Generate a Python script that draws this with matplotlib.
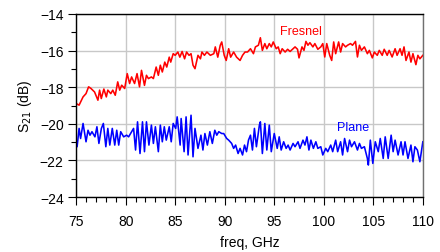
import matplotlib
matplotlib.use("Agg")
import matplotlib.pyplot as plt
from matplotlib.ticker import MultipleLocator

plt.rcParams["font.family"] = ["Liberation Sans", "DejaVu Sans"]

# Fresnel lens measurement (red)
fresnel_f = [75.0, 75.3, 75.7, 76.0, 76.26, 76.5, 76.86, 77.2, 77.37, 77.54, 77.8, 78.05, 78.2, 78.5,
             78.7, 78.95, 79.2, 79.4, 79.6, 79.9, 80.16, 80.4, 80.6, 80.9, 81.15, 81.4, 81.6, 81.9,
             82.1, 82.3, 82.6, 82.8, 83.08, 83.3, 83.5, 83.7, 83.95, 84.15, 84.4, 84.55, 84.8, 85.0,
             85.27, 85.47, 85.7, 85.95, 86.15, 86.4, 86.6, 86.8, 87.0, 87.3, 87.55, 87.7, 87.95, 88.2,
             88.55, 88.9, 89.05, 89.3, 89.55, 89.7, 89.95, 90.15, 90.4, 90.6, 90.9, 91.2, 91.55, 91.8,
             92.05, 92.3, 92.6, 92.9, 93.1, 93.4, 93.6, 93.8, 94.05, 94.25, 94.5, 94.7, 94.9, 95.2,
             95.4, 95.6, 95.8, 96.1, 96.35, 96.6, 96.9, 97.1, 97.35, 97.5, 97.8, 98.0, 98.2, 98.4,
             98.6, 98.9, 99.1, 99.4, 99.7, 99.9, 100.1, 100.3, 100.6, 100.8, 101.0, 101.2, 101.5, 101.7,
             101.9, 102.2, 102.4, 102.7, 102.9, 103.2, 103.4, 103.6, 103.8, 104.1, 104.4, 104.6, 104.9,
             105.1, 105.4, 105.6, 105.9, 106.1, 106.4, 106.6, 106.9, 107.2, 107.4, 107.7, 107.9, 108.1,
             108.3, 108.6, 108.8, 109.0, 109.3, 109.5, 109.7, 110.0]
fresnel_db = [-18.89, -18.98, -18.53, -18.35, -17.98, -18.07, -18.26, -18.71, -18.16, -18.62, -18.1, -18.53, -18.16, -18.35,
              -18.16, -18.44, -17.71, -18.16, -17.89, -18.07, -17.26, -17.8, -17.44, -17.8, -17.26, -17.98, -17.08, -17.9,
              -17.35, -17.53, -17.44, -17.53, -16.9, -17.35, -16.8, -17.17, -16.63, -16.9, -16.36, -16.63, -16.17, -16.26,
              -16.08, -16.36, -16.05, -16.45, -16.08, -16.26, -16.17, -16.8, -16.99, -16.26, -16.45, -16.08, -16.26, -16.08,
              -16.26, -16.17, -15.8, -16.36, -15.71, -15.53, -16.26, -16.54, -15.9, -16.36, -16.08, -16.36, -16.54, -16.26,
              -16.08, -16.08, -15.9, -16.17, -15.8, -15.71, -15.3, -15.99, -15.62, -15.9, -15.62, -15.8, -15.53, -15.9,
              -15.8, -16.17, -15.9, -16.08, -15.93, -16.05, -15.9, -15.8, -15.93, -16.4, -15.8, -15.99, -15.5, -15.71,
              -15.57, -15.8, -15.62, -15.93, -15.8, -15.62, -16.35, -15.62, -16.26, -16.54, -15.53, -16.17, -15.53, -16.08,
              -15.62, -15.8, -15.71, -15.62, -15.71, -15.5, -16.35, -15.71, -15.99, -15.8, -16.17, -15.99, -16.4,
              -16.08, -16.26, -15.99, -16.26, -15.93, -16.26, -15.99, -16.35, -15.9, -16.26, -15.9, -16.26, -15.8,
              -16.54, -16.08, -16.63, -16.17, -16.77, -16.26, -16.45, -16.26]

# plane reference (blue)
plane_f = [74.95, 75.1, 75.3, 75.45, 75.7, 76.0, 76.2, 76.4, 76.6, 76.9, 77.1, 77.3, 77.55, 77.75, 78.0,
           78.2, 78.4, 78.65, 78.9, 79.1, 79.3, 79.5, 79.8, 80.1, 80.3, 80.6, 80.8, 81.0, 81.2, 81.45,
           81.7, 81.9, 82.1, 82.35, 82.6, 82.8, 83.0, 83.3, 83.5, 83.7, 83.9, 84.1, 84.4, 84.6, 84.8,
           85.05, 85.2, 85.5, 85.6, 85.9, 86.1, 86.3, 86.6, 86.8, 87.0, 87.3, 87.6, 87.8, 88.0, 88.25,
           88.5, 88.75, 89.0, 89.2, 89.4, 89.7, 89.9, 90.2, 90.4, 90.7, 90.9, 91.1, 91.35, 91.55, 91.8,
           92.0, 92.2, 92.4, 92.6, 92.8, 93.0, 93.2, 93.5, 93.6, 93.8, 94.05, 94.25, 94.5, 94.7, 95.0,
           95.3, 95.5, 95.7, 95.95, 96.2, 96.4, 96.6, 96.9, 97.1, 97.4, 97.6, 97.9, 98.1, 98.3, 98.5,
           98.7, 98.95, 99.2, 99.4, 99.7, 99.9, 100.2, 100.4, 100.7, 100.9, 101.2, 101.4, 101.7, 101.9,
           102.1, 102.4, 102.6, 102.8, 103.1, 103.4, 103.6, 103.8, 104.1, 104.4, 104.5, 104.7, 104.95,
           105.2, 105.5, 105.7, 106.0, 106.2, 106.5, 106.8, 107.0, 107.2, 107.5, 107.8, 108.0, 108.2,
           108.5, 108.8, 109.0, 109.2, 109.45, 109.7, 110.0]
plane_db = [-21.07, -21.25, -20.25, -20.8, -19.98, -20.98, -20.35, -20.62, -20.43, -20.71, -20.16, -21.07, -20.25, -19.98, -21.25,
            -20.25, -21.16, -20.25, -21.16, -20.35, -21.16, -20.43, -20.71, -20.62, -20.71, -20.43, -20.25, -21.43, -19.89, -21.62,
            -19.89, -21.52, -19.89, -21.16, -20.07, -21.07, -20.16, -21.52, -20.07, -20.98, -20.16, -20.89, -20.16, -20.98, -19.98,
            -20.25, -19.62, -21.16, -19.71, -21.52, -19.62, -21.7, -19.53, -21.8, -20.25, -21.34, -20.62, -21.43, -20.53, -21.16,
            -20.43, -21.07, -20.35, -20.62, -20.43, -20.53, -20.53, -20.8, -20.89, -21.07, -21.34, -21.16, -21.62, -21.34, -21.7,
            -21.16, -21.52, -20.89, -20.62, -21.43, -20.25, -21.25, -20.07, -19.89, -21.62, -19.98, -21.43, -20.07, -21.52, -20.53,
            -21.34, -20.71, -21.43, -20.98, -21.34, -21.16, -21.43, -21.07, -21.25, -20.98, -21.34, -20.89, -21.16, -20.71, -21.43,
            -20.89, -21.34, -20.98, -21.34, -21.25, -21.7, -21.34, -21.52, -21.16, -21.52, -20.89, -21.52, -20.98, -21.7,
            -20.8, -21.52, -20.89, -21.25, -20.98, -21.43, -21.07, -21.34, -21.25, -21.89, -22.25, -20.89, -22.16,
            -20.98, -21.52, -20.8, -21.89, -20.71, -21.89, -20.62, -21.52, -20.89, -21.7, -20.98, -21.7, -20.98,
            -21.89, -21.16, -22.07, -21.25, -21.43, -22.07, -20.98]

fig = plt.figure(figsize=(4.4, 2.53), dpi=100)
ax = fig.add_axes([0.173, 0.217, 0.788, 0.724])

ax.plot(fresnel_f, fresnel_db, color="#ff0000", lw=1.15)
ax.plot(plane_f, plane_db, color="#0000ff", lw=1.15)

ax.text(97.7, -14.95, "Fresnel", color="#ff0000", fontsize=9, ha="center", va="center")
ax.text(103.0, -20.2, "Plane", color="#0000ff", fontsize=9, ha="center", va="center")

ax.set_xlim(75, 110)
ax.set_ylim(-24, -14)
ax.xaxis.set_major_locator(MultipleLocator(5))
ax.xaxis.set_minor_locator(MultipleLocator(1))
ax.yaxis.set_major_locator(MultipleLocator(2))
ax.yaxis.set_minor_locator(MultipleLocator(1))
ax.grid(True, which="major", color="#c8c8c8", lw=1)
ax.set_axisbelow(True)

ax.tick_params(which="major", direction="out", length=6, width=0.8, labelsize=10)
ax.tick_params(axis="x", which="major", pad=6)
ax.tick_params(axis="y", which="major", pad=3)
ax.tick_params(which="minor", direction="out", length=3.5, width=0.8)

for s in ["left", "bottom", "top"]:
    ax.spines[s].set_color("black")
    ax.spines[s].set_linewidth(1.0)
ax.spines["right"].set_color("#707070")
ax.spines["right"].set_linewidth(1.0)

ax.set_xlabel("freq, GHz", fontsize=10, labelpad=5)
ax.set_ylabel("S$_{21}$ (dB)", fontsize=10, labelpad=4)

fig.savefig("out.png", dpi=100)
